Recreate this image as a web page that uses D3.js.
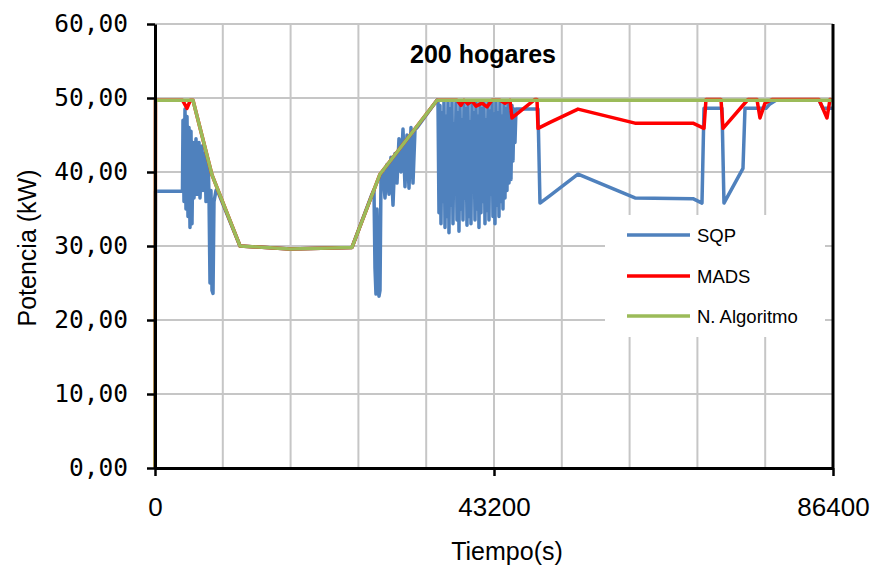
<!DOCTYPE html>
<html>
<head>
<meta charset="utf-8">
<script src="https://cdn.jsdelivr.net/npm/d3@7"></script>
<style>
  html, body { margin: 0; padding: 0; background: #ffffff; }
  svg { display: block; }
</style>
</head>
<body>
<svg id="chart" width="874" height="570"></svg>
<script>
// ---------------- DATA ----------------
const title = "200 hogares";
const xLabel = "Tiempo(s)";
const yLabel = "Potencia (kW)";
const seriesNames = ["SQP", "MADS", "N. Algoritmo"];
const seriesColors = ["#4F81BD", "#FF0000", "#9BBB59"];

const xTickLabels = [0, 43200, 86400];
const xGridValues = [8640, 17280, 25920, 34560, 43200, 51840, 60480, 69120, 77760, 86400];
const yTickValues = [0, 10, 20, 30, 40, 50, 60];

// N. Algoritmo: [time (s), power (kW)]
const algoritmo = [
  [0, 0], [60, 49.7], [4842, 49.7], [7264, 39.6], [10832, 30.0], [17203, 29.6],
  [25104, 29.8], [28672, 39.7], [35935, 49.7], [86400, 49.7]
];

// MADS
const mads = [
  [0, 0], [60, 49.7], [3500, 49.7], [4078, 48.6], [4500, 49.7], [4842, 49.7],
  [7264, 39.6], [10832, 30.0], [17203, 29.6], [25104, 29.8], [28672, 39.7], [35935, 49.7],
  [38484, 49.7], [38994, 49.0], [39376, 49.7], [39886, 49.2], [40395, 49.6], [40905, 48.9],
  [41670, 49.3], [42307, 48.8], [42944, 49.7], [43963, 49.7], [44600, 49.3], [45238, 49.7],
  [45493, 47.3], [48423, 49.8], [48678, 49.8], [48806, 45.9], [50335, 46.7], [53903, 48.5],
  [61166, 46.6], [68557, 46.6], [69959, 45.9], [70214, 49.8], [72125, 49.8], [72380, 45.9],
  [75566, 49.8], [76713, 49.8], [77095, 47.3], [77732, 49.3], [78624, 49.8], [84614, 49.8],
  [85633, 47.3], [86015, 49.8], [86400, 49.7]
];

// SQP
const sqp = [
  [0, 0], [60, 37.4], [3500, 37.4],
  [3568, 47.0], [3696, 36.0], [3823, 48.5], [3950, 35.0], [4078, 47.5], [4205, 34.0],
  [4333, 46.0], [4460, 32.5], [4588, 45.5], [4715, 33.0], [4842, 44.0], [4970, 36.5],
  [5225, 44.5], [5352, 37.0], [5607, 44.0], [5734, 36.5], [5989, 43.5], [6117, 37.5],
  [6372, 42.5], [6499, 36.0], [6754, 41.5], [6881, 37.0], [7009, 25.0], [7136, 37.5],
  [7264, 24.0], [7391, 23.6], [7518, 36.0], [7773, 37.5], [8028, 37.3],
  [10832, 30.0], [17203, 29.6], [25104, 29.8],
  [27652, 37.0], [27907, 37.6], [28035, 27.0], [28162, 23.5], [28290, 35.0], [28544, 23.2],
  [28672, 24.0], [28799, 39.0], [29054, 40.0], [29309, 36.5], [29564, 41.0], [29819, 37.0],
  [30073, 42.0], [30328, 35.5], [30583, 42.5], [30838, 38.5], [31093, 44.5], [31348, 40.0],
  [31603, 45.8], [31857, 38.0], [32112, 45.0], [32367, 37.8], [32622, 46.0], [32877, 38.5],
  [33132, 45.7], [33386, 46.0], [35935, 49.7],
  [36063, 49.5], [36190, 34.5], [36318, 49.0], [36445, 33.0], [36572, 48.0], [36700, 36.0],
  [36827, 49.6], [36955, 32.5], [37082, 47.5], [37209, 34.0], [37337, 49.5], [37464, 31.8],
  [37592, 48.5], [37719, 35.5], [37846, 49.6], [37974, 33.0], [38101, 46.5], [38229, 37.0],
  [38356, 49.4], [38483, 33.5], [38611, 48.0], [38738, 32.0], [38866, 49.6], [38993, 35.0],
  [39121, 47.0], [39248, 33.5], [39375, 49.5], [39503, 36.5], [39630, 48.5], [39758, 32.8],
  [39885, 49.6], [40012, 34.0], [40140, 46.8], [40267, 33.0], [40395, 49.3], [40522, 37.5],
  [40649, 48.0], [40777, 33.5], [40904, 49.6], [41032, 35.0], [41159, 47.5], [41286, 32.5],
  [41414, 49.5], [41541, 34.5], [41669, 48.5], [41796, 36.0], [41923, 49.6], [42051, 33.0],
  [42178, 47.0], [42306, 34.8], [42433, 49.4], [42560, 33.5], [42688, 48.2], [42815, 37.0],
  [42943, 49.6], [43070, 34.0], [43198, 47.8], [43325, 33.0], [43452, 49.5], [43580, 35.5],
  [43707, 48.0], [43835, 34.0], [43962, 49.6], [44089, 36.0], [44217, 47.5], [44344, 35.0],
  [44472, 49.4], [44599, 36.5], [44726, 48.5], [44854, 37.5], [44981, 49.6], [45109, 38.5],
  [45236, 48.0], [45363, 39.0], [45491, 49.0], [45618, 41.5], [45746, 48.5], [45873, 44.0],
  [46000, 48.5], [48551, 48.5], [48806, 48.5], [49060, 35.8], [50335, 36.8], [53903, 39.7],
  [61166, 36.5], [68557, 36.4], [69704, 35.8], [69959, 48.6], [72253, 48.6], [72507, 35.8],
  [74929, 40.5], [75184, 48.6], [77860, 48.6], [78370, 49.2], [79134, 49.7], [84614, 49.7],
  [85124, 48.6], [86400, 48.6]
];

// ---------------- CHART ----------------
const svg = d3.select("#chart");
const mLeft = 155, mRight = 833, mTop = 24, mBottom = 468;

const x = d3.scaleLinear().domain([0, 86400]).range([mLeft, mRight]);
const y = d3.scaleLinear().domain([0, 60]).range([mBottom, mTop]);

const gridColor = "#C6C6C6";

// horizontal gridlines
svg.append("g").selectAll("line").data(yTickValues.filter(v => v > 0)).join("line")
  .attr("x1", mLeft).attr("x2", mRight)
  .attr("y1", d => y(d)).attr("y2", d => y(d))
  .attr("stroke", gridColor).attr("stroke-width", 2);

// vertical gridlines
svg.append("g").selectAll("line").data(xGridValues).join("line")
  .attr("x1", d => x(d)).attr("x2", d => x(d))
  .attr("y1", mTop).attr("y2", mBottom)
  .attr("stroke", gridColor).attr("stroke-width", 2);

// series
const line = d3.line().x(d => x(d[0])).y(d => y(d[1]));
const allSeries = [sqp, mads, algoritmo];
allSeries.forEach((s, i) => {
  svg.append("path").datum(s)
    .attr("d", line)
    .attr("fill", "none")
    .attr("stroke", seriesColors[i])
    .attr("stroke-width", 3.5)
    .attr("stroke-linejoin", "round");
});

// right border line
svg.append("line")
  .attr("x1", x(86400)).attr("x2", x(86400))
  .attr("y1", mTop).attr("y2", mBottom)
  .attr("stroke", "#000").attr("stroke-width", 3);

// Y axis
const fmtLocale = d3.formatLocale({decimal: ",", thousands: ".", grouping: [3], currency: ["", ""]});
const yFmt = fmtLocale.format(".2f");
const yAxis = d3.axisLeft(y).tickValues(yTickValues).tickFormat(yFmt).tickSize(8).tickSizeOuter(0).tickPadding(19);
const gy = svg.append("g").attr("transform", `translate(${mLeft},0)`).call(yAxis);
gy.select(".domain").attr("stroke", "#000").attr("stroke-width", 3);
gy.selectAll(".tick line").attr("stroke", "#000").attr("stroke-width", 2.5);
gy.selectAll(".tick text")
  .attr("font-family", "'DejaVu Sans Mono', monospace")
  .attr("font-size", 24.5).attr("fill", "#000");

// X axis
const xAxis = d3.axisBottom(x).tickValues(xTickLabels).tickFormat(d3.format("d")).tickSize(8).tickSizeOuter(0).tickPadding(22);
const gx = svg.append("g").attr("transform", `translate(0,${mBottom})`).call(xAxis);
gx.select(".domain").attr("stroke", "#000").attr("stroke-width", 3);
gx.selectAll(".tick line").attr("stroke", "#000").attr("stroke-width", 2.5);
gx.selectAll(".tick text")
  .attr("font-family", "'Liberation Sans', Arial, sans-serif")
  .attr("font-size", 26).attr("fill", "#000");

// Title
svg.append("text").attr("x", 483).attr("y", 63)
  .attr("text-anchor", "middle")
  .attr("font-family", "'Liberation Sans', Arial, sans-serif")
  .attr("font-weight", "bold").attr("font-size", 25).text(title);

// Axis titles
svg.append("text").attr("x", 507).attr("y", 560)
  .attr("text-anchor", "middle")
  .attr("font-family", "'Liberation Sans', Arial, sans-serif")
  .attr("font-size", 25).text(xLabel);

svg.append("text")
  .attr("transform", "translate(36,248) rotate(-90)")
  .attr("text-anchor", "middle")
  .attr("font-family", "'Liberation Sans', Arial, sans-serif")
  .attr("font-size", 25).text(yLabel);

// Legend
const lg = svg.append("g");
lg.append("rect").attr("x", 605).attr("y", 215).attr("width", 220).attr("height", 122).attr("fill", "#fff");
const legendY = [235, 276, 316];
seriesNames.forEach((name, i) => {
  lg.append("line").attr("x1", 627).attr("x2", 690)
    .attr("y1", legendY[i]).attr("y2", legendY[i])
    .attr("stroke", seriesColors[i]).attr("stroke-width", 3.5);
  lg.append("text").attr("x", 697).attr("y", legendY[i] + 7)
    .attr("font-family", "'Liberation Sans', Arial, sans-serif")
    .attr("font-size", 18.5).attr("fill", "#000").text(name);
});
</script>
</body>
</html>
